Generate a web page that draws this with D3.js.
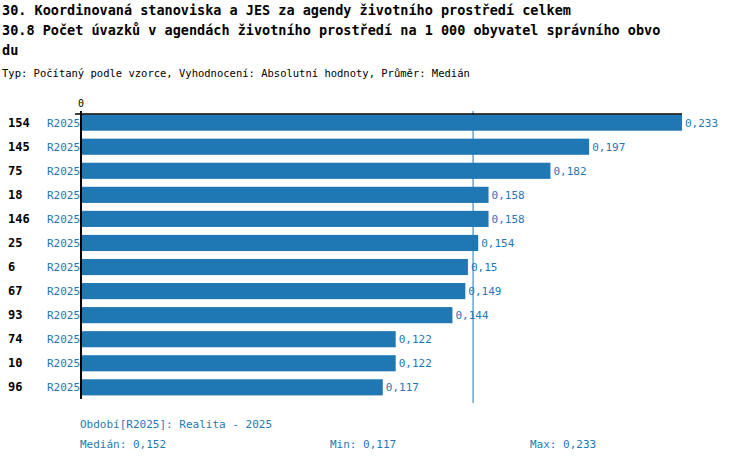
<!DOCTYPE html>
<html><head><meta charset="utf-8">
<script src="https://cdn.jsdelivr.net/npm/d3@7"></script>
<style>body{margin:0;background:#fff}text{font-family:"DejaVu Sans Mono",monospace}</style>
</head><body><svg id="c" width="750" height="462"></svg>
<script>
const categories = ["154","145","75","18","146","25","6","67","93","74","10","96"];
const values = [0.233,0.197,0.182,0.158,0.158,0.154,0.15,0.149,0.144,0.122,0.122,0.117];
const period = "R2025";
const median = 0.152, minV = 0.117, maxV = 0.233;
const blue = "#1f77b4";
const fmt = v => String(v).replace(".", ",");

const svg = d3.select("#c");
const x = d3.scaleLinear().domain([0, maxV]).range([81, 682]);
const y = d3.scaleBand().domain(categories).range([111, 399]).paddingInner(0.33).paddingOuter(0.15);

svg.append("text").attr("x",2).attr("y",15).attr("font-size",13.5).attr("font-weight","bold").text("30. Koordinovaná stanoviska a JES za agendy životního prostředí celkem");
svg.append("text").attr("x",2).attr("y",35).attr("font-size",13.5).attr("font-weight","bold").text("30.8 Počet úvazků v agendách životního prostředí na 1 000 obyvatel správního obvo");
svg.append("text").attr("x",2).attr("y",55).attr("font-size",13.5).attr("font-weight","bold").text("du");
svg.append("text").attr("x",2).attr("y",77).attr("font-size",10.5).text("Typ: Počítaný podle vzorce, Vyhodnocení: Absolutní hodnoty, Průměr: Medián");

svg.selectAll("rect.bar").data(values).join("rect")
  .attr("x", x(0)).attr("y",(d,i)=>y(categories[i]))
  .attr("width", d=>x(d)-x(0)).attr("height", y.bandwidth()).attr("fill", blue);

svg.selectAll("text.val").data(values).join("text")
  .attr("x", d=>x(d)+3).attr("y",(d,i)=>y(categories[i])+y.bandwidth()/2+4)
  .attr("font-size",11).attr("fill",blue).text(d=>fmt(d));

svg.selectAll("text.cat").data(categories).join("text")
  .attr("x",8).attr("y",d=>y(d)+y.bandwidth()/2+4)
  .attr("font-size",12).attr("font-weight","bold").text(d=>d);
svg.selectAll("text.per").data(categories).join("text")
  .attr("x",47).attr("y",d=>y(d)+y.bandwidth()/2+4)
  .attr("font-size",11).attr("fill",blue).text(period);

svg.append("line").attr("x1",x(median)).attr("x2",x(median)).attr("y1",111).attr("y2",403).attr("stroke",blue);
svg.append("line").attr("x1",x(0)).attr("x2",x(0)).attr("y1",111).attr("y2",399).attr("stroke","#000").attr("stroke-width",2);
svg.append("line").attr("x1",75).attr("x2",x(maxV)).attr("y1",114).attr("y2",114).attr("stroke","#000").attr("stroke-width",1.5);
svg.append("text").attr("x",x(0)).attr("y",107).attr("font-size",10).attr("text-anchor","middle").text("0");

svg.append("text").attr("x",80).attr("y",428).attr("font-size",11).attr("fill",blue).text("Období[R2025]: Realita - 2025");
svg.append("text").attr("x",80).attr("y",448).attr("font-size",11).attr("fill",blue).text("Medián: "+fmt(median));
svg.append("text").attr("x",330).attr("y",448).attr("font-size",11).attr("fill",blue).text("Min: "+fmt(minV));
svg.append("text").attr("x",530).attr("y",448).attr("font-size",11).attr("fill",blue).text("Max: "+fmt(maxV));
</script></body></html>
